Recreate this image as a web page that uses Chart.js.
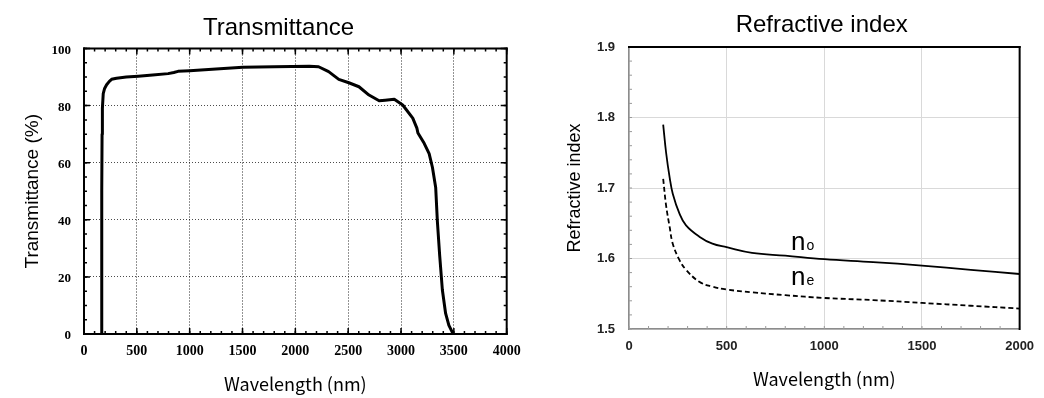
<!DOCTYPE html>
<html><head><meta charset="utf-8">
<script src="https://cdn.jsdelivr.net/npm/chart.js@4.4.1/dist/chart.umd.min.js"></script>
<style>
html,body{margin:0;padding:0;background:#fff;overflow:hidden;width:1044px;height:398px;}
#c1{position:absolute;left:0;top:0;}
#c2{position:absolute;left:530px;top:0;}
</style></head><body>
<canvas id="c1" width="530" height="398"></canvas>
<canvas id="c2" width="514" height="398"></canvas>
<script>
// ---- Transmittance data ----
const transWavelength = [165, 167, 169, 171, 174, 182, 195, 214, 240, 261, 308, 400, 513, 650, 796, 850, 890, 1000, 1250, 1503, 1800, 2132, 2220, 2315, 2411, 2506, 2602, 2697, 2793, 2850, 2936, 3016, 3111, 3150, 3160, 3219, 3266, 3297, 3328, 3344, 3366, 3391, 3422, 3453, 3491];
const transValue = [0, 20, 50, 70, 79, 84.2, 86, 87.3, 88.5, 89.2, 89.6, 90, 90.3, 90.7, 91.2, 91.6, 92, 92.2, 92.8, 93.4, 93.6, 93.8, 93.6, 91.9, 89.2, 88, 86.6, 83.7, 81.7, 81.9, 82.2, 80.2, 75.6, 72.1, 70.4, 66.8, 63.2, 58.4, 51.3, 39.4, 27.4, 15.5, 7.2, 3, 0.2];
const transXTicks = [0, 500, 1000, 1500, 2000, 2500, 3000, 3500, 4000];
const transYTicks = [0, 20, 40, 60, 80, 100];

// ---- Refractive index data ----
const riWavelength = [175, 190, 208, 224, 258, 292, 360, 427, 500, 630, 800, 1000, 1250, 1500, 1750, 2000];
const nOrdinary = [1.790, 1.750, 1.715, 1.692, 1.664, 1.647, 1.631, 1.621, 1.616, 1.608, 1.604, 1.599, 1.595, 1.590, 1.584, 1.578];
const nExtraordinary = [1.713, 1.675, 1.645, 1.621, 1.598, 1.584, 1.567, 1.560, 1.556, 1.552, 1.548, 1.544, 1.541, 1.537, 1.533, 1.529];
const riXTicks = [0, 500, 1000, 1500, 2000];
const riYTicks = [1.5, 1.6, 1.7, 1.8, 1.9];

const SANS = "'Liberation Sans', Arial, sans-serif";
const SERIF = "'Liberation Serif', 'Times New Roman', serif";
const GOTHIC = "'Noto Sans CJK JP', 'Noto Sans', sans-serif";

const titleShift = {
  id: 'titleShift',
  afterLayout(chart, args, o) {
    const tb = chart.titleBlock;
    if (!tb || o.center == null) return;
    const d = o.center - (tb.left + tb.right) / 2;
    tb.left += d; tb.right += d;
  }
};

const frameDeco = {
  id: 'frameDeco',
  afterDatasetsDraw(chart, args, o) {
    const {ctx, chartArea: a, scales} = chart;
    ctx.save();
    (o.ticks || []).forEach(t => {
      const s = scales[t.axis];
      ctx.strokeStyle = t.color; ctx.lineWidth = t.width;
      const n = Math.round((s.max - s.min) / t.step);
      for (let i = 0; i <= n; i++) {
        const p = s.getPixelForValue(s.min + i * t.step);
        ctx.beginPath();
        t.sides.forEach(side => {
          if (side === 'bottom') { ctx.moveTo(p, a.bottom); ctx.lineTo(p, a.bottom - t.len); }
          if (side === 'top') { ctx.moveTo(p, a.top); ctx.lineTo(p, a.top + t.len); }
          if (side === 'left') { ctx.moveTo(a.left, p); ctx.lineTo(a.left + t.len, p); }
          if (side === 'right') { ctx.moveTo(a.right, p); ctx.lineTo(a.right - t.len, p); }
        });
        ctx.stroke();
      }
    });
    (o.lines || []).forEach(l => {
      ctx.strokeStyle = l.color; ctx.lineWidth = l.width; ctx.setLineDash([]);
      ctx.beginPath();
      const h = l.width / 2;
      if (l.side === 'top') { ctx.moveTo(a.left - h, a.top); ctx.lineTo(a.right + h, a.top); }
      if (l.side === 'bottom') { ctx.moveTo(a.left - h, a.bottom); ctx.lineTo(a.right + h, a.bottom); }
      if (l.side === 'left') { ctx.moveTo(a.left, a.top - h); ctx.lineTo(a.left, a.bottom + h); }
      if (l.side === 'right') { ctx.moveTo(a.right, a.top - h); ctx.lineTo(a.right, a.bottom + h); }
      ctx.stroke();
    });
    ctx.restore();
  }
};

const curveLabels = {
  id: 'curveLabels',
  afterDatasetsDraw(chart, args, o) {
    const {ctx, scales} = chart;
    ctx.save();
    ctx.fillStyle = o.color || '#000';
    ctx.textBaseline = 'alphabetic';
    (o.items || []).forEach(it => {
      const x = scales.x.getPixelForValue(it.x);
      const y = scales.y.getPixelForValue(it.y);
      ctx.font = o.mainFont;
      ctx.fillText(it.main, x, y);
      const w = ctx.measureText(it.main).width;
      ctx.font = o.subFont;
      ctx.fillText(it.sub, x + w + 1, y);
    });
    ctx.restore();
  }
};

// ---------- Left chart ----------
new Chart(document.getElementById('c1'), {
  type: 'line',
  data: {
    datasets: [{
      data: transWavelength.map((w, i) => ({x: w, y: transValue[i]})),
      borderColor: '#000', borderWidth: 3, pointRadius: 0, tension: 0, fill: false,
      borderJoinStyle: 'round', borderCapStyle: 'round'
    }]
  },
  plugins: [titleShift, frameDeco],
  options: {
    responsive: false, animation: false, events: [],
    layout: {padding: {left: 0, right: 21, top: 0, bottom: 0}},
    plugins: {
      legend: {display: false}, tooltip: {enabled: false},
      title: {display: true, text: 'Transmittance', color: '#000',
        font: {family: SANS, size: 24, weight: 'normal', lineHeight: 1.2},
        padding: {top: 14.4, bottom: 5.3}},
      titleShift: {center: 278.5},
      frameDeco: {
        ticks: [
          {axis: 'x', step: 100, len: 3, sides: ['top', 'bottom'], color: '#000', width: 1.5},
          {axis: 'x', step: 500, len: 6, sides: ['top', 'bottom'], color: '#000', width: 1.5},
          {axis: 'y', step: 5, len: 3, sides: ['left', 'right'], color: '#000', width: 1.5},
          {axis: 'y', step: 20, len: 6, sides: ['left', 'right'], color: '#000', width: 1.5}
        ],
        lines: [
          {side: 'top', color: '#000', width: 2}, {side: 'bottom', color: '#000', width: 2},
          {side: 'left', color: '#000', width: 2}, {side: 'right', color: '#000', width: 2}
        ]
      }
    },
    scales: {
      x: {
        type: 'linear', min: 0, max: 4000,
        afterBuildTicks: s => { s.ticks = transXTicks.map(v => ({value: v})); },
        afterFit: s => { s.height = 64; },
        grid: {color: 'rgba(0,0,0,0.85)', lineWidth: 1, drawTicks: false},
        border: {display: false, dash: [1, 2]},
        ticks: {color: '#000', padding: 9.3, maxRotation: 0, autoSkip: false,
          font: {family: SERIF, size: 14, weight: 'bold'},
          callback: v => String(v)},
        title: {display: true, text: 'Wavelength (nm)', color: '#000',
          font: {family: GOTHIC, size: 18, weight: 'normal', lineHeight: 1.2},
          padding: {top: 0, bottom: 3.2}}
      },
      y: {
        type: 'linear', min: 0, max: 100,
        afterBuildTicks: s => { s.ticks = transYTicks.map(v => ({value: v})); },
        afterFit: s => { s.width = 84; },
        grid: {color: 'rgba(0,0,0,0.7)', lineWidth: 1, drawTicks: false},
        border: {display: false, dash: [1, 2]},
        ticks: {color: '#000', padding: 13, labelOffset: 2, autoSkip: false,
          font: {family: SERIF, size: 13, weight: 'bold'},
          callback: v => String(v)},
        title: {display: true, text: 'Transmittance (%)', color: '#000',
          font: {family: SANS, size: 19, weight: 'normal', lineHeight: 1.2},
          padding: {top: 21.6, bottom: 0}}
      }
    }
  }
});

// ---------- Right chart ----------
new Chart(document.getElementById('c2'), {
  type: 'line',
  data: {
    datasets: [
      {label: 'no', data: riWavelength.map((w, i) => ({x: w, y: nOrdinary[i]})),
        borderColor: '#000', borderWidth: 1.8, pointRadius: 0, tension: 0.4, fill: false},
      {label: 'ne', data: riWavelength.map((w, i) => ({x: w, y: nExtraordinary[i]})),
        borderColor: '#000', borderWidth: 1.8, borderDash: [5, 3], pointRadius: 0, tension: 0.4, fill: false}
    ]
  },
  plugins: [titleShift, frameDeco, curveLabels],
  options: {
    responsive: false, animation: false, events: [],
    layout: {padding: {left: 0, right: 20, top: 0, bottom: 0}},
    plugins: {
      legend: {display: false}, tooltip: {enabled: false},
      title: {display: true, text: 'Refractive index', color: '#000',
        font: {family: SANS, size: 24, weight: 'normal', lineHeight: 1.2},
        padding: {top: 10.8, bottom: 7.4}},
      titleShift: {center: 291.7},
      frameDeco: {
        ticks: [
          {axis: 'x', step: 100, len: 3, sides: ['bottom'], color: '#9a9a9a', width: 1},
          {axis: 'y', step: 0.02, len: 3, sides: ['left'], color: '#9a9a9a', width: 1}
        ],
        lines: [
          {side: 'top', color: '#000', width: 2}, {side: 'right', color: '#000', width: 2}
        ]
      },
      curveLabels: {
        color: '#000',
        mainFont: "26px " + SANS,
        subFont: "14px " + SANS,
        items: [
          {main: 'n', sub: 'o', x: 829, y: 1.6125},
          {main: 'n', sub: 'e', x: 829, y: 1.5628}
        ]
      }
    },
    scales: {
      x: {
        type: 'linear', min: 0, max: 2000,
        afterBuildTicks: s => { s.ticks = riXTicks.map(v => ({value: v})); },
        afterFit: s => { s.height = 69; },
        grid: {color: '#d9d9d9', lineWidth: 1, drawTicks: false},
        border: {display: true, color: '#8c8c8c', width: 1.5},
        ticks: {color: '#222', padding: 9.9, maxRotation: 0, autoSkip: false,
          font: {family: SANS, size: 13, weight: 'bold'},
          callback: v => String(v)},
        title: {display: true, text: 'Wavelength (nm)', color: '#000',
          font: {family: GOTHIC, size: 18, weight: 'normal', lineHeight: 1.2},
          padding: {top: 0, bottom: 8.2}}
      },
      y: {
        type: 'linear', min: 1.5, max: 1.9,
        afterBuildTicks: s => { s.ticks = riYTicks.map(v => ({value: v})); },
        afterFit: s => { s.width = 99; },
        grid: {color: '#d9d9d9', lineWidth: 1, drawTicks: false},
        border: {display: true, color: '#8c8c8c', width: 1.5},
        ticks: {color: '#222', padding: 14, autoSkip: false,
          font: {family: SANS, size: 13, weight: 'bold'},
          callback: v => Number(v).toFixed(1)},
        title: {display: true, text: 'Refractive index', color: '#000',
          font: {family: SANS, size: 18, weight: 'normal', lineHeight: 1.2},
          padding: {top: 34.2, bottom: 0}}
      }
    }
  }
});
</script>
</body></html>
